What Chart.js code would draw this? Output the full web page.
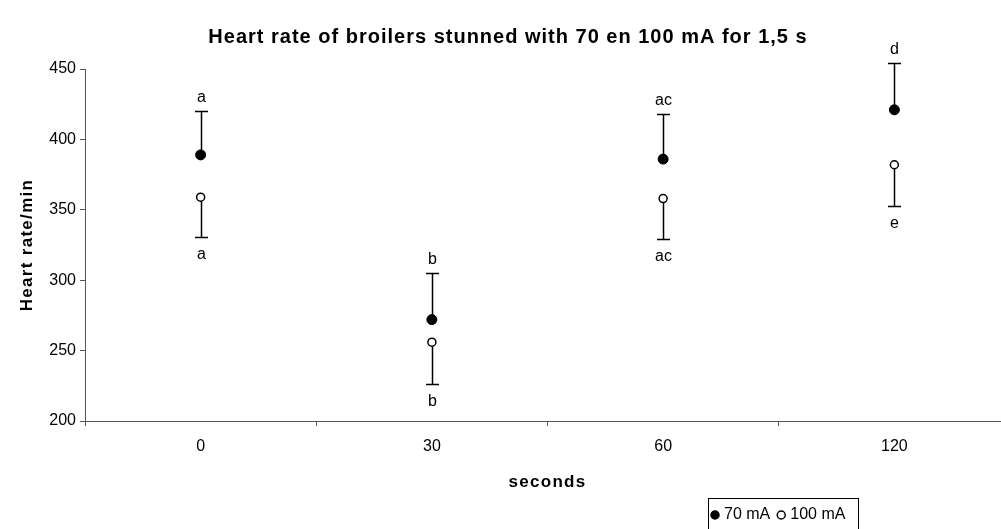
<!DOCTYPE html>
<html>
<head>
<meta charset="utf-8">
<script src="https://cdn.jsdelivr.net/npm/chart.js@4.4.0/dist/chart.umd.min.js"></script>
<style>
  body { margin: 0; background: #fff; overflow: hidden; }
  #contenedor { width: 1016px; height: 529px; }
</style>
</head>
<body>
<div id="contenedor"><canvas id="grafica" width="1016" height="529"></canvas></div>
<script>
// Datos
const segundos = ["0", "30", "60", "120"];
const ritmo70 = [389, 272, 386, 421];
const error70 = [31, 33, 32, 33];
const ritmo100 = [359, 256, 358, 382];
const error100 = [28, 30, 29, 29];
const letras70 = ["a", "b", "ac", "d"];
const letras100 = ["a", "b", "ac", "e"];
const ticksY = [200, 250, 300, 350, 400, 450];

const titulo = "Heart rate of broilers stunned with 70 en 100 mA for 1,5 s";
const tituloX = "seconds";
const tituloY = "Heart rate/min";

const fuente = "'Liberation Sans', Arial, sans-serif";

// Plugin para dibujar las barras de error y las letras
const barrasError = {
  id: "barrasError",
  beforeDatasetsDraw(chart) {
    const ctx = chart.ctx;
    const escalaX = chart.scales.x;
    const escalaY = chart.scales.y;
    ctx.save();
    ctx.strokeStyle = "#000";
    ctx.fillStyle = "#000";
    ctx.lineWidth = 1.5;
    ctx.font = "16px " + fuente;
    ctx.textAlign = "center";
    ctx.textBaseline = "alphabetic";

    segundos.forEach((s, i) => {
      const x = Math.round(escalaX.getPixelForValue(i)) + 0.5;

      // 70 mA: error hacia arriba
      const y70 = escalaY.getPixelForValue(ritmo70[i]);
      const arriba = Math.round(escalaY.getPixelForValue(ritmo70[i] + error70[i])) + 0.5;
      ctx.beginPath();
      ctx.moveTo(x, y70);
      ctx.lineTo(x, arriba);
      ctx.moveTo(x - 6.5, arriba);
      ctx.lineTo(x + 6.5, arriba);
      ctx.stroke();
      ctx.fillText(letras70[i], x, arriba - 10);

      // 100 mA: error hacia abajo
      const y100 = escalaY.getPixelForValue(ritmo100[i]);
      const abajo = Math.round(escalaY.getPixelForValue(ritmo100[i] - error100[i])) + 0.5;
      ctx.beginPath();
      ctx.moveTo(x, y100);
      ctx.lineTo(x, abajo);
      ctx.moveTo(x - 6.5, abajo);
      ctx.lineTo(x + 6.5, abajo);
      ctx.stroke();
      ctx.fillText(letras100[i], x, abajo + 21);
    });
    ctx.restore();
  }
};

// Plugin para los títulos (con algo de espaciado entre letras)
const titulos = {
  id: "titulos",
  afterDraw(chart) {
    const ctx = chart.ctx;
    const area = chart.chartArea;
    ctx.save();
    ctx.fillStyle = "#000";
    ctx.textAlign = "center";
    ctx.textBaseline = "middle";

    ctx.font = "bold 20px " + fuente;
    ctx.letterSpacing = "1px";
    ctx.fillText(titulo, chart.width / 2, 37);

    ctx.font = "bold 17px " + fuente;
    ctx.letterSpacing = "1.3px";
    ctx.fillText(tituloX, (area.left + area.right) / 2, 482);

    ctx.translate(27, (area.top + area.bottom) / 2);
    ctx.rotate(-Math.PI / 2);
    ctx.fillText(tituloY, 0, 0);
    ctx.restore();
  }
};

// Plugin para la leyenda con recuadro
const leyendaCaja = {
  id: "leyendaCaja",
  afterDraw(chart) {
    const ctx = chart.ctx;
    ctx.save();
    ctx.strokeStyle = "#000";
    ctx.lineWidth = 1;
    ctx.strokeRect(708.5, 498.5, 150, 40);
    ctx.font = "16px " + fuente;
    ctx.textBaseline = "middle";
    ctx.textAlign = "left";
    ctx.fillStyle = "#000";

    let x = 715;
    const y = 515;
    chart.data.datasets.forEach((ds) => {
      ctx.beginPath();
      ctx.arc(x, y, 4, 0, Math.PI * 2);
      ctx.fillStyle = ds.pointBackgroundColor;
      ctx.fill();
      ctx.lineWidth = 1.5;
      ctx.strokeStyle = "#000";
      ctx.stroke();
      ctx.fillStyle = "#000";
      ctx.fillText(ds.label, x + 9, y);
      x += 9 + ctx.measureText(ds.label).width + 11;
    });
    ctx.restore();
  }
};

const contexto = document.getElementById("grafica");

new Chart(contexto, {
  type: "line",
  data: {
    labels: segundos,
    datasets: [
      {
        label: "70 mA",
        data: ritmo70,
        showLine: false,
        pointRadius: 5,
        pointBackgroundColor: "#000",
        pointBorderColor: "#000",
        pointBorderWidth: 1,
      },
      {
        label: "100 mA",
        data: ritmo100,
        showLine: false,
        pointRadius: 4,
        pointBackgroundColor: "#fff",
        pointBorderColor: "#000",
        pointBorderWidth: 1.5,
      },
    ],
  },
  options: {
    responsive: false,
    animation: false,
    layout: { padding: { left: 0, right: 1, top: 69, bottom: 0 } },
    plugins: {
      legend: { display: false },
      tooltip: { enabled: false },
      title: { display: false },
    },
    scales: {
      x: {
        type: "category",
        offset: true,
        grid: { offset: true, drawOnChartArea: false, drawTicks: true, tickLength: 5, color: "#555" },
        border: { color: "#555", width: 1 },
        ticks: { color: "#000", font: { family: fuente, size: 16 }, padding: 11, maxRotation: 0 },
        afterFit(escala) {
          escala.height = 108;
        },
      },
      y: {
        min: 200,
        max: 450,
        grid: { drawOnChartArea: false, drawTicks: true, tickLength: 5, color: "#555" },
        border: { color: "#555", width: 1 },
        ticks: { color: "#000", font: { family: fuente, size: 16 }, padding: 4 },
        afterBuildTicks(escala) {
          escala.ticks = ticksY.map((v) => ({ value: v }));
        },
        afterFit(escala) {
          escala.width = 85;
        },
      },
    },
  },
  plugins: [barrasError, titulos, leyendaCaja],
});
</script>
</body>
</html>
